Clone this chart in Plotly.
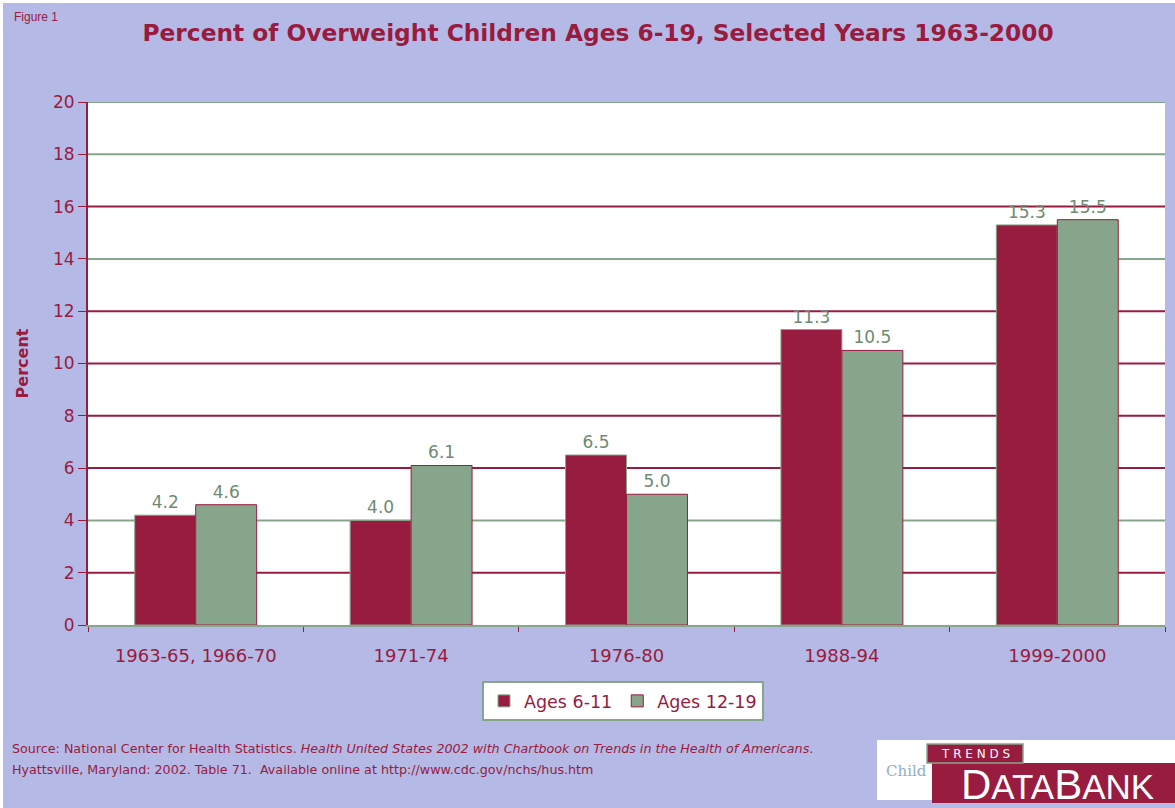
import plotly.graph_objects as go

categories = ["1963-65, 1966-70", "1971-74", "1976-80", "1988-94", "1999-2000"]
ages_6_11 = [4.2, 4.0, 6.5, 11.3, 15.3]
ages_12_19 = [4.6, 6.1, 5.0, 10.5, 15.5]
y_ticks = [0, 2, 4, 6, 8, 10, 12, 14, 16, 18, 20]
green_grid = [4, 14, 18, 20]

MAROON = "#981B40"
GREEN = "#87A58A"
BG = "#B5B9E6"
FONT = "Liberation Sans, Arial, sans-serif"
WIDE = "DejaVu Sans, Liberation Sans, sans-serif"

fig = go.Figure()
fig.add_trace(go.Bar(
    x=categories, y=ages_6_11, name="Ages 6-11",
    marker=dict(color=MAROON, line=dict(color=GREEN, width=1)),
    text=[f"{v:.1f}" for v in ages_6_11], textposition="outside",
    textfont=dict(color="#6F8A72", size=17, family=WIDE), cliponaxis=False,
))
fig.add_trace(go.Bar(
    x=categories, y=ages_12_19, name="Ages 12-19",
    marker=dict(color=GREEN, line=dict(color=MAROON, width=1)),
    text=[f"{v:.1f}" for v in ages_12_19], textposition="outside",
    textfont=dict(color="#6F8A72", size=17, family=WIDE), cliponaxis=False,
))

W0, H0 = 1077, 523  # plot area size in px


def px(x):
    return (x - 88) / W0


def py(y):
    return (625 - y) / H0


shapes = []
for g in y_ticks[1:]:
    shapes.append(dict(type="line", xref="paper", yref="y", x0=0, x1=1, y0=g, y1=g,
                       line=dict(color=GREEN if g in green_grid else MAROON, width=2),
                       layer="below"))
# white outer frame on top/left edges
shapes.append(dict(type="line", xref="paper", yref="paper", x0=px(1.5), x1=px(1.5),
                   y0=py(808), y1=py(0), line=dict(color="white", width=3)))
shapes.append(dict(type="line", xref="paper", yref="paper", x0=px(0), x1=px(1175),
                   y0=py(1.5), y1=py(1.5), line=dict(color="white", width=3)))

# logo boxes
shapes += [
    dict(type="rect", xref="paper", yref="paper", x0=px(877), x1=px(1175), y0=py(800), y1=py(740),
         fillcolor="white", line=dict(width=0)),
    dict(type="rect", xref="paper", yref="paper", x0=px(932), x1=px(1175), y0=py(803), y1=py(763),
         fillcolor=MAROON, line=dict(width=0)),
    dict(type="rect", xref="paper", yref="paper", x0=px(927), x1=px(1023), y0=py(763), y1=py(744),
         fillcolor=MAROON, line=dict(color=GREEN, width=1.5)),
]

annotations = [
    dict(text="Figure 1", xref="paper", yref="paper", x=px(12), y=py(17), xanchor="left",
         yanchor="middle", showarrow=False, font=dict(size=12, color=MAROON, family=FONT)),
    dict(text="Source: National Center for Health Statistics. <i>Health United States 2002 with Chartbook on Trends in the Health of Americans</i>.",
         xref="paper", yref="paper", x=px(10), y=py(748), xanchor="left", yanchor="middle",
         showarrow=False, font=dict(size=12.7, color=MAROON, family=WIDE)),
    dict(text="Hyattsville, Maryland: 2002. Table 71.  Available online at http://www.cdc.gov/nchs/hus.htm",
         xref="paper", yref="paper", x=px(10), y=py(769), xanchor="left", yanchor="middle",
         showarrow=False, font=dict(size=12.7, color=MAROON, family=WIDE)),
    dict(text="Child", xref="paper", yref="paper", x=px(884), y=py(771), xanchor="left",
         yanchor="middle", showarrow=False, font=dict(size=15, color="#8FAFC0", family="DejaVu Serif")),
    dict(text="T R E N D S", xref="paper", yref="paper", x=px(975), y=py(754), xanchor="center",
         yanchor="middle", showarrow=False, font=dict(size=12, color="white", family=WIDE)),
    dict(text="D<span style='font-size:35px'>ATA</span>B<span style='font-size:35px'>ANK</span>",
         xref="paper", yref="paper", x=px(1057), y=py(784), xanchor="center",
         yanchor="middle", showarrow=False, font=dict(size=42, color="white", family=FONT)),
]

fig.update_layout(
    width=1175, height=808,
    paper_bgcolor=BG, plot_bgcolor="white",
    margin=dict(l=88, r=10, t=102, b=183),
    barmode="group", bargap=0.434, bargroupgap=0,
    title=dict(text="<b>Percent of Overweight Children Ages 6-19, Selected Years 1963-2000</b>",
               x=0.509, xanchor="center", y=1 - 33 / 808, yanchor="middle",
               font=dict(size=23.3, color=MAROON, family=WIDE)),
    font=dict(family=WIDE, color=MAROON),
    showlegend=True,
    legend=dict(orientation="h", x=px(623), y=py(701), xanchor="center", yanchor="middle",
                bgcolor="white", bordercolor=GREEN, borderwidth=2,
                font=dict(size=17.5, color=MAROON, family=WIDE), itemwidth=30,
                traceorder="normal"),
    xaxis=dict(showgrid=False, showline=True, linecolor=GREEN, linewidth=2,
               ticks="outside", tickson="boundaries", ticklen=5, tickcolor=MAROON,
               tickfont=dict(size=18, color=MAROON, family=WIDE), ticklabelstandoff=13),
    yaxis=dict(range=[0, 20], tickvals=y_ticks, showgrid=False,
               showline=True, linecolor=MAROON, linewidth=2, ticks="outside", ticklen=8,
               tickcolor=MAROON, tickfont=dict(size=17, color=MAROON, family=WIDE),
               zeroline=False,
               title=dict(text="<b>Percent</b>", font=dict(size=16, color=MAROON, family=WIDE),
                          standoff=20)),
    shapes=shapes, annotations=annotations,
)

fig.write_html("out.html", config={"displayModeBar": False},
               post_script="document.body.style.margin='0';document.body.style.padding='0';")
